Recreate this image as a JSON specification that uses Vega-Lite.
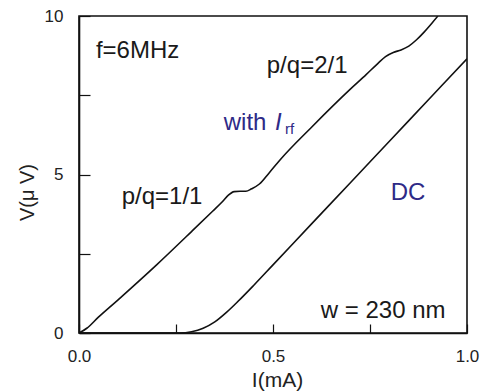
{
  "$schema": "https://vega.github.io/schema/vega-lite/v6.json",
  "width": 388,
  "height": 317,
  "autosize": {"type": "none"},
  "padding": {"left": 79, "top": 16, "right": 13, "bottom": 58},
  "background": "white",
  "config": {
    "font": "Liberation Sans",
    "view": {"stroke": "#111", "strokeWidth": 1.6},
    "axis": {"domainColor": "#111", "domainWidth": 1.6, "tickColor": "#111", "tickWidth": 1.2, "labelColor": "#222", "titleColor": "#222", "grid": false, "labelFont": "Liberation Sans", "titleFont": "Liberation Sans", "titleFontWeight": "normal"}
  },
  "datasets": {
    "rf": [
      {"I": 0.0, "V": 0.0}, {"I": 0.02, "V": 0.15}, {"I": 0.05, "V": 0.5}, {"I": 0.1, "V": 1.04},
      {"I": 0.2, "V": 2.15}, {"I": 0.29, "V": 3.2}, {"I": 0.345, "V": 3.85}, {"I": 0.37, "V": 4.15},
      {"I": 0.385, "V": 4.35}, {"I": 0.4, "V": 4.46}, {"I": 0.415, "V": 4.47}, {"I": 0.43, "V": 4.47},
      {"I": 0.445, "V": 4.55}, {"I": 0.465, "V": 4.7}, {"I": 0.49, "V": 5.05}, {"I": 0.518, "V": 5.46},
      {"I": 0.6, "V": 6.5}, {"I": 0.7, "V": 7.7}, {"I": 0.74, "V": 8.15}, {"I": 0.77, "V": 8.5},
      {"I": 0.79, "V": 8.72}, {"I": 0.81, "V": 8.85}, {"I": 0.83, "V": 8.93}, {"I": 0.85, "V": 9.05},
      {"I": 0.87, "V": 9.25}, {"I": 0.89, "V": 9.5}, {"I": 0.91, "V": 9.78}, {"I": 0.925, "V": 10.0}
    ],
    "dc": [
      {"I": 0.0, "V": 0.0}, {"I": 0.26, "V": 0.0}, {"I": 0.29, "V": 0.04}, {"I": 0.32, "V": 0.15},
      {"I": 0.35, "V": 0.35}, {"I": 0.38, "V": 0.65}, {"I": 0.41, "V": 1.0}, {"I": 0.45, "V": 1.5},
      {"I": 0.5, "V": 2.15}, {"I": 0.6, "V": 3.45}, {"I": 0.7, "V": 4.75}, {"I": 0.8, "V": 6.05},
      {"I": 0.9, "V": 7.35}, {"I": 1.0, "V": 8.65}
    ],
    "blackText": [
      {"label": "f=6MHz", "I": 0.151, "V": 8.9},
      {"label": "p/q=2/1", "I": 0.588, "V": 8.42},
      {"label": "p/q=1/1", "I": 0.214, "V": 4.29},
      {"label": "w = 230 nm", "I": 0.784, "V": 0.69}
    ],
    "blueText": [
      {"label": "with", "I": 0.428, "V": 6.62},
      {"label": "DC", "I": 0.848, "V": 4.42}
    ],
    "italicText": [{"label": "I", "I": 0.514, "V": 6.62}],
    "subText": [{"label": "rf", "I": 0.543, "V": 6.45}]
  },
  "layer": [
    {
      "data": {"name": "rf"},
      "mark": {"type": "line", "color": "#111", "strokeWidth": 1.6, "interpolate": "monotone", "clip": true},
      "encoding": {
        "x": {"field": "I", "type": "quantitative", "scale": {"domain": [0, 1], "nice": false},
          "axis": {"title": "I(mA)", "values": [0, 0.25, 0.5, 0.75, 1.0], "format": ".1f",
            "labelExpr": "datum.value == 0 || datum.value == 0.5 || datum.value == 1 ? datum.label : ''",
            "tickSize": -9, "labelPadding": 24, "labelFontSize": 17, "titleFontSize": 21,
            "labelFlush": false, "titleY": 53, "titleBaseline": "alphabetic", "titleX": 198}},
        "y": {"field": "V", "type": "quantitative", "scale": {"domain": [0, 10], "nice": false},
          "axis": {"title": "V(μ V)", "values": [0, 2.5, 5, 7.5, 10], "format": "d",
            "labelExpr": "datum.value % 5 == 0 ? datum.label : ''",
            "tickSize": -11, "labelPadding": 27, "labelFontSize": 17, "titleFontSize": 20,
            "labelFlush": false, "titleX": -52, "titleY": 176, "titleBaseline": "middle", "titleAngle": -90}}
      }
    },
    {
      "data": {"name": "dc"},
      "mark": {"type": "line", "color": "#111", "strokeWidth": 1.6, "interpolate": "monotone", "clip": true},
      "encoding": {"x": {"field": "I", "type": "quantitative"}, "y": {"field": "V", "type": "quantitative"}}
    },
    {
      "data": {"name": "blackText"},
      "mark": {"type": "text", "fontSize": 24, "color": "#1a1a1a", "align": "center", "baseline": "middle"},
      "encoding": {"x": {"field": "I", "type": "quantitative"}, "y": {"field": "V", "type": "quantitative"}, "text": {"field": "label"}}
    },
    {
      "data": {"name": "blueText"},
      "mark": {"type": "text", "fontSize": 24, "color": "#2e2a87", "align": "center", "baseline": "middle"},
      "encoding": {"x": {"field": "I", "type": "quantitative"}, "y": {"field": "V", "type": "quantitative"}, "text": {"field": "label"}}
    },
    {
      "data": {"name": "italicText"},
      "mark": {"type": "text", "fontSize": 24, "fontStyle": "italic", "color": "#2e2a87", "align": "center", "baseline": "middle"},
      "encoding": {"x": {"field": "I", "type": "quantitative"}, "y": {"field": "V", "type": "quantitative"}, "text": {"field": "label"}}
    },
    {
      "data": {"name": "subText"},
      "mark": {"type": "text", "fontSize": 15, "color": "#2e2a87", "align": "center", "baseline": "middle"},
      "encoding": {"x": {"field": "I", "type": "quantitative"}, "y": {"field": "V", "type": "quantitative"}, "text": {"field": "label"}}
    }
  ]
}
